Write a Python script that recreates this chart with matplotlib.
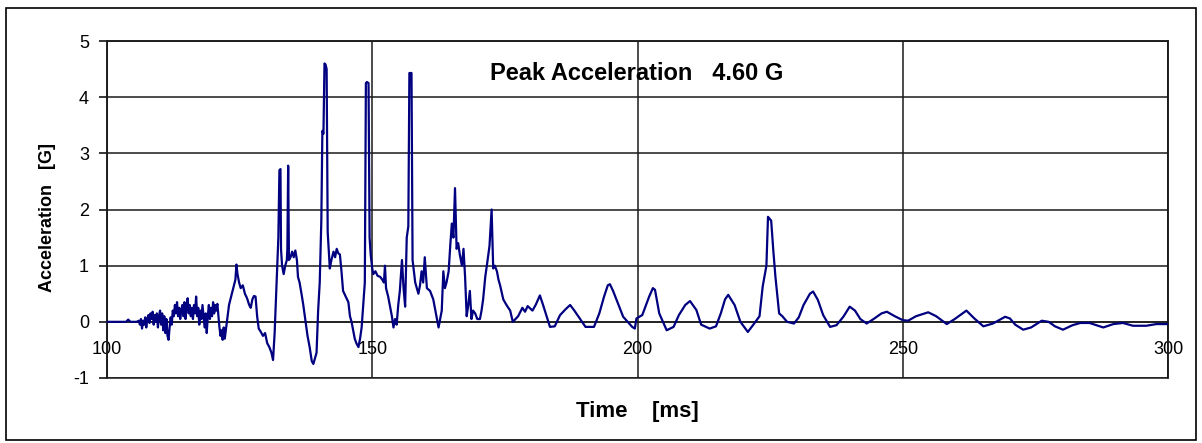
import matplotlib
matplotlib.use("Agg")
import matplotlib.pyplot as plt
import numpy as np
from matplotlib.patches import Rectangle

plt.rcParams["font.family"] = ["Liberation Sans", "DejaVu Sans"]
plt.rcParams["axes.unicode_minus"] = False

# --- data (time in ms, acceleration in G) ---
t_quiet = [100.0, 102.0, 103.6, 104.0, 104.4, 105.6, 106.0]
a_quiet = [0.0, 0.0, 0.0, 0.04, 0.0, 0.0, 0.02]

t_noise = [106.2, 106.4, 106.6, 106.8, 107.0, 107.2, 107.4, 107.6, 107.8, 108.0,
           108.2, 108.4, 108.6, 108.8, 109.0, 109.2, 109.4, 109.6, 109.8, 110.0,
           110.2, 110.4, 110.6, 110.8, 111.0, 111.2, 111.4, 111.6, 111.8, 112.0,
           112.2, 112.4, 112.6, 112.8, 113.0, 113.2, 113.4, 113.6, 113.8, 114.0,
           114.2, 114.4, 114.6, 114.8, 115.0, 115.2, 115.4, 115.6, 115.8, 116.0,
           116.2, 116.4, 116.6, 116.8, 117.0, 117.2, 117.4, 117.6, 117.8, 118.0,
           118.2, 118.4, 118.6, 118.8, 119.0, 119.2, 119.4, 119.6, 119.8, 120.0,
           120.2, 120.4, 120.6, 120.8, 121.0, 121.2, 121.4, 121.6, 121.8, 122.0]
a_noise = [-0.05, 0.05, -0.12, 0.02, -0.05, 0.08, -0.1, 0.05, 0.12, -0.02,
           0.15, 0.05, 0.18, -0.05, 0.12, 0.0, 0.15, -0.1, 0.1, 0.2,
           -0.05, 0.15, -0.15, 0.1, -0.2, 0.05, -0.25, -0.32, -0.1, 0.08,
           -0.05, 0.2, 0.1, 0.3, 0.15, 0.35, 0.1, 0.25, 0.05, 0.2,
           0.3, 0.1, 0.35, 0.05, 0.3, 0.42, 0.15, 0.3, 0.1, 0.25,
           0.05, 0.3, 0.15, 0.45, 0.1, 0.25, -0.05, 0.2, 0.05, 0.3,
           0.1, -0.1, 0.15, -0.2, 0.1, 0.3, 0.05, 0.25, 0.1, 0.35,
           0.15, 0.3, 0.2, 0.32, 0.1, -0.1, -0.25, -0.15, -0.32, -0.1]

t_onset = [122.2, 122.6, 123.0, 123.4, 123.8, 124.2, 124.4, 124.6, 124.9, 125.2,
           125.6, 126.0, 126.4, 126.8, 127.1, 127.4, 127.7, 128.0, 128.3, 128.6,
           129.0, 129.4, 129.8, 130.2, 130.6, 131.0, 131.3, 131.6]
a_onset = [-0.3, 0.0, 0.3, 0.45, 0.6, 0.75, 1.02, 0.85, 0.7, 0.6,
           0.65, 0.5, 0.42, 0.3, 0.25, 0.4, 0.46, 0.45, 0.1, -0.12,
           -0.18, -0.25, -0.2, -0.38, -0.45, -0.55, -0.68, -0.2]

t_impact = [131.8, 132.1, 132.3, 132.5, 132.7, 132.8, 133.0, 133.3, 133.6, 133.9,
            134.0, 134.15, 134.3, 134.6, 134.9, 135.2, 135.5, 135.8, 136.0, 136.3,
            136.7, 137.0, 137.4, 137.8, 138.2, 138.6, 138.9, 139.2, 139.5, 139.8,
            140.1, 140.4, 140.6, 140.8, 141.0, 141.2, 141.4, 141.6, 142.0, 142.3,
            142.7, 143.0, 143.3, 143.6, 143.9, 144.2, 144.5, 145.0, 145.5, 145.8,
            146.1, 146.4, 146.7, 147.0, 147.4, 147.7, 148.0, 148.3, 148.6, 148.8,
            149.0, 149.3, 149.5, 149.7, 150.0, 150.2, 150.6, 151.0, 151.5, 151.9,
            152.2, 152.4, 152.6, 153.0, 153.3, 153.7, 154.0, 154.3, 154.6, 154.9,
            155.2, 155.6, 155.9, 156.2, 156.5, 156.8, 157.0, 157.4, 157.6, 158.1,
            158.7, 159.0, 159.3, 159.6, 159.9, 160.3, 160.9, 161.5, 162.1, 162.5,
            163.1, 163.4, 163.7, 164.0, 164.4, 164.7, 165.0, 165.3, 165.6, 165.9,
            166.2, 166.5, 166.9, 167.2, 167.5, 167.8, 168.1, 168.4, 168.7, 169.0,
            169.4, 169.8, 170.3, 170.6, 170.9, 171.3, 171.6, 172.1, 172.5, 172.8,
            173.1, 173.5, 173.8, 174.1, 174.7, 175.3, 176.0]
a_impact = [0.3, 1.0, 1.5, 2.7, 2.72, 1.3, 1.0, 0.85, 1.0, 1.1,
            1.3, 2.78, 1.1, 1.15, 1.25, 1.15, 1.27, 1.1, 0.8, 0.7,
            0.48, 0.3, 0.03, -0.25, -0.45, -0.7, -0.75, -0.65, -0.55, 0.2,
            0.7, 1.8, 3.4, 3.35, 4.6, 4.58, 4.5, 1.6, 0.95, 1.1,
            1.25, 1.15, 1.3, 1.22, 1.2, 0.9, 0.55, 0.45, 0.35, 0.1,
            0.0, -0.15, -0.3, -0.38, -0.45, -0.3, -0.1, 0.3, 0.7, 4.25,
            4.27, 4.25, 1.5, 1.2, 0.95, 0.85, 0.9, 0.82, 0.8, 0.75,
            0.7, 1.0, 0.6, 0.45, 0.3, 0.1, -0.1, 0.05, -0.05, 0.3,
            0.55, 1.1, 0.6, 0.27, 1.5, 1.7, 4.43, 4.43, 1.1, 0.7,
            0.5, 0.65, 0.9, 0.7, 1.15, 0.6, 0.55, 0.4, 0.1, -0.1,
            0.2, 0.9, 0.6, 0.7, 0.9, 1.35, 1.75, 1.5, 2.38, 1.3,
            1.4, 1.2, 1.0, 1.3, 0.8, 0.1, 0.3, 0.55, 0.05, 0.2,
            0.15, 0.05, 0.05, 0.2, 0.4, 0.8, 1.0, 1.35, 2.0, 0.95,
            1.0, 0.9, 0.75, 0.65, 0.4, 0.3, 0.2]

t_ring = [176.5, 177.5, 178.3, 178.8, 179.3, 180.2, 180.8, 181.6, 182.2, 182.7,
          183.5, 184.4, 185.4, 186.4, 187.3, 188.1, 188.9, 190.2, 191.8, 192.8,
          193.7, 194.4, 194.8, 195.4, 196.1, 197.3, 199.0, 199.5, 199.8, 200.9,
          202.2, 202.9, 203.3, 204.1, 205.5, 206.8, 207.8, 209.0, 209.9, 211.1,
          212.0, 213.6, 214.8, 215.7, 216.5, 217.1, 218.3, 219.4, 220.8, 222.0,
          223.0, 223.6, 224.3, 224.6, 225.2, 225.6, 226.0, 226.7, 227.3, 228.2,
          229.5, 230.4, 231.3, 232.5, 233.1, 234.0, 235.0, 236.3, 237.5, 238.8,
          240.0, 241.0, 242.0, 243.2, 244.5, 246.0, 247.0, 248.5, 250.0, 251.0,
          252.5, 254.8, 256.3, 258.3, 259.8, 262.0, 263.5, 265.2, 267.0, 269.3,
          270.2, 271.2, 272.7, 274.2, 276.2, 277.5, 278.7, 280.2, 282.0, 283.5,
          285.2, 287.8, 289.7, 291.5, 293.4, 295.9, 297.8, 300.0]
a_ring = [0.0, 0.1, 0.25, 0.18, 0.28, 0.2, 0.3, 0.47, 0.3, 0.15,
          -0.09, -0.08, 0.12, 0.22, 0.3, 0.2, 0.09, -0.09, -0.09, 0.15,
          0.45, 0.65, 0.67, 0.55, 0.38, 0.09, -0.09, -0.12, 0.06, 0.12,
          0.45, 0.6, 0.57, 0.15, -0.15, -0.09, 0.12, 0.3, 0.37, 0.21,
          -0.05, -0.12, -0.08, 0.15, 0.4, 0.48, 0.3, 0.0, -0.18, -0.03,
          0.1, 0.63, 1.0, 1.87, 1.8, 1.27, 0.8, 0.15, 0.1, 0.0,
          -0.03, 0.08, 0.3, 0.5, 0.54, 0.39, 0.12, -0.09, -0.06, 0.09,
          0.27, 0.2, 0.05, -0.03, 0.05, 0.15, 0.18, 0.1, 0.03, 0.02,
          0.1, 0.17, 0.1, -0.04, 0.05, 0.2, 0.06, -0.08, -0.03, 0.09,
          0.06, -0.05, -0.14, -0.1, 0.02, 0.0, -0.08, -0.14, -0.06, -0.02,
          -0.02, -0.1, -0.04, -0.02, -0.07, -0.07, -0.04, -0.04]

x_ticks = [100, 150, 200, 250, 300]
y_ticks = [-1, 0, 1, 2, 3, 4, 5]
peak_text = "Peak Acceleration   4.60 G"

time_ms = np.concatenate([t_quiet, t_noise, t_onset, t_impact, t_ring])
accel_g = np.concatenate([a_quiet, a_noise, a_onset, a_impact, a_ring])

W, H = 1202, 443
fig = plt.figure(figsize=(W / 100, H / 100), dpi=100)
ax = fig.add_axes([107 / W, 1 - 378 / H, (1168 - 107) / W, (378 - 41) / H])

ax.plot(time_ms, accel_g, color="#000080", lw=1.6, zorder=3)

ax.set_xlim(100, 300)
ax.set_ylim(-1, 5)
ax.set_xticks(x_ticks)
ax.set_yticks(y_ticks)
ax.grid(True, color="#1a1a1a", lw=1.1, zorder=1)

# excel style: category axis crosses at 0
ax.spines["bottom"].set_position(("data", 0))
for s in ax.spines.values():
    s.set_color("#1a1a1a")
    s.set_linewidth(1.1)
ax.add_patch(Rectangle((0, 0), 1, 1, transform=ax.transAxes, fill=False,
                       ec="#1a1a1a", lw=1.1, clip_on=False, zorder=2))

ax.tick_params(axis="x", length=0, pad=14, labelsize=13)
ax.tick_params(axis="y", direction="out", length=6, width=1.1, pad=7,
               labelsize=13)

fig.text(48 / W, 1 - 217 / H, "Acceleration   [G]", rotation=90,
         ha="center", va="center", fontsize=13, fontweight="bold")
fig.text(637 / W, 1 - 412 / H, "Time    [ms]", ha="center", va="center",
         fontsize=16, fontweight="bold")
fig.text(490 / W, 1 - 73 / H, peak_text, ha="left", va="center",
         fontsize=17, fontweight="bold")

fig.add_artist(Rectangle((6 / W, 3 / H), 1190 / W, 432 / H,
                         transform=fig.transFigure, fill=False,
                         ec="black", lw=1.2))

fig.savefig("out.png", dpi=100)
